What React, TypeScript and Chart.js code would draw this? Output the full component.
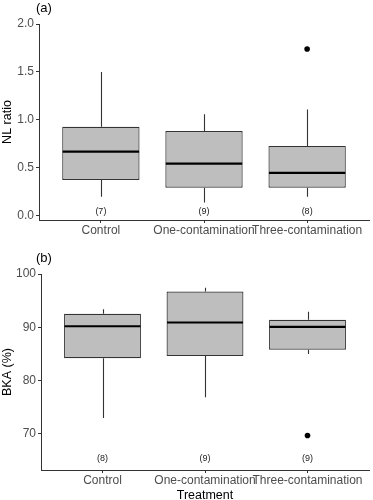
import React, { useEffect, useRef } from "react";
import { Chart, registerables } from "chart.js";

Chart.register(...registerables);

const FONT = "'Liberation Sans', Arial, sans-serif";

const categories = ["Control", "One-contamination", "Three-contamination"];

// Panel (a): NL ratio
const nlMin = [0.2, 0.14, 0.2];
const nlQ1 = [0.375, 0.295, 0.295];
const nlMedian = [0.67, 0.545, 0.45];
const nlQ3 = [0.93, 0.885, 0.73];
const nlMax = [1.5, 1.06, 1.11];
const nlOutliers = [[], [], [1.74]];
const nlCounts = ["(7)", "(9)", "(8)"];
const nlCountLevel = 0.045;
const nlTicks = [0, 0.5, 1.0, 1.5, 2.0];

// Panel (b): BKA (%)
const bkaMin = [73.0, 76.9, 85.0];
const bkaQ1 = [84.2, 84.6, 85.8];
const bkaMedian = [90.2, 90.9, 90.1];
const bkaQ3 = [92.55, 96.7, 91.4];
const bkaMax = [93.4, 97.4, 92.9];
const bkaOutliers = [[], [], [69.7]];
const bkaCounts = ["(8)", "(9)", "(9)"];
const bkaCountLevel = 65.4;
const bkaTicks = [70, 80, 90, 100];

type PanelProps = {
  tag: string;
  yTitle: string;
  xTitle?: string;
  mins: number[];
  q1: number[];
  medians: number[];
  q3: number[];
  maxs: number[];
  outliers: number[][];
  counts: string[];
  countLevel: number;
  yTicks: number[];
  yMin: number;
  yMax: number;
  yDecimals: number;
  yAxisWidth: number;
};

function BoxPanel(p: PanelProps) {
  const ref = useRef<HTMLCanvasElement | null>(null);

  useEffect(() => {
    if (!ref.current) return;

    const decor = {
      id: "boxDecor",
      afterDatasetsDraw(chart: any) {
        const ctx = chart.ctx;
        const ys = chart.scales.y;
        const meta = chart.getDatasetMeta(0);
        ctx.save();
        meta.data.forEach((bar: any, i: number) => {
          const cx = Math.round(bar.x) + 0.5;
          const half = bar.width / 2;
          // whiskers
          ctx.strokeStyle = "#333333";
          ctx.lineWidth = 1.1;
          ctx.beginPath();
          ctx.moveTo(cx, ys.getPixelForValue(p.q3[i]));
          ctx.lineTo(cx, ys.getPixelForValue(p.maxs[i]));
          ctx.moveTo(cx, ys.getPixelForValue(p.q1[i]));
          ctx.lineTo(cx, ys.getPixelForValue(p.mins[i]));
          ctx.stroke();
          // median
          ctx.strokeStyle = "#000000";
          ctx.lineWidth = 2.2;
          ctx.beginPath();
          const my = ys.getPixelForValue(p.medians[i]);
          ctx.moveTo(bar.x - half + 0.5, my);
          ctx.lineTo(bar.x + half - 0.5, my);
          ctx.stroke();
          // counts
          ctx.fillStyle = "#1a1a1a";
          ctx.font = `9px ${FONT}`;
          ctx.textAlign = "center";
          ctx.textBaseline = "middle";
          ctx.fillText(p.counts[i], bar.x, ys.getPixelForValue(p.countLevel));
        });
        ctx.restore();
      },
      afterDraw(chart: any) {
        const ctx = chart.ctx;
        const xs = chart.scales.x;
        const area = chart.chartArea;
        ctx.save();
        // category labels, kept inside the panel on the right
        ctx.fillStyle = "#4d4d4d";
        ctx.font = `12px ${FONT}`;
        ctx.textAlign = "center";
        ctx.textBaseline = "alphabetic";
        categories.forEach((c, i) => {
          const w = ctx.measureText(c).width;
          let x = xs.getPixelForValue(i + 1);
          x = Math.min(x, area.right - w / 2);
          ctx.fillText(c, x, area.bottom + 14);
        });
        // panel tag
        ctx.fillStyle = "#000000";
        ctx.font = `13px ${FONT}`;
        ctx.textAlign = "left";
        ctx.fillText(p.tag, 36, 12);
        ctx.restore();
      },
    };

    const boxData = categories.map((_, i) => ({ x: i + 1, y: [p.q1[i], p.q3[i]] }));
    const outlierData: { x: number; y: number }[] = [];
    p.outliers.forEach((arr, i) => arr.forEach((v) => outlierData.push({ x: i + 1, y: v })));

    const chart = new Chart(ref.current, {
      type: "bar",
      data: {
        datasets: [
          {
            type: "bar",
            data: boxData as any,
            backgroundColor: "#bebebe",
            borderColor: "#333333",
            borderWidth: 1.2,
            borderSkipped: false,
            barPercentage: 0.75,
            categoryPercentage: 1,
            grouped: false,
          } as any,
          {
            type: "scatter",
            data: outlierData as any,
            pointRadius: 2.8,
            backgroundColor: "#000000",
            borderWidth: 0,
          } as any,
        ],
      },
      options: {
        responsive: false,
        animation: false,
        devicePixelRatio: 1,
        layout: { padding: { top: 24, right: 3, left: 0, bottom: 0 } },
        plugins: {
          legend: { display: false },
          tooltip: { enabled: false },
          title: { display: false },
        },
        scales: {
          x: {
            type: "linear",
            min: 0.4,
            max: 3.6,
            offset: false,
            afterBuildTicks: (s: any) => {
              s.ticks = categories.map((_, i) => ({ value: i + 1 }));
            },
            afterFit: (s: any) => {
              s.height = 30;
            },
            ticks: {
              display: false,
              callback: (v: any) => categories[Math.round(Number(v)) - 1],
              autoSkip: false,
            },
            grid: {
              display: true,
              offset: false,
              drawOnChartArea: false,
              drawTicks: true,
              tickLength: 3,
              color: "#333333",
            },
            border: { display: true, color: "#333333", width: 1 },
            title: {
              display: !!p.xTitle,
              text: p.xTitle || "",
              color: "#000000",
              font: { size: 12.5, family: FONT, lineHeight: 1 },
              padding: { top: 0, bottom: -1.5 },
            },
          },
          y: {
            type: "linear",
            min: p.yMin,
            max: p.yMax,
            afterBuildTicks: (s: any) => {
              s.ticks = p.yTicks.map((v) => ({ value: v }));
            },
            afterFit: (s: any) => {
              s.width = p.yAxisWidth;
            },
            ticks: {
              callback: (v: any) => Number(v).toFixed(p.yDecimals),
              color: "#4d4d4d",
              font: { size: 12, family: FONT },
              padding: 2,
            },
            grid: { display: true, drawOnChartArea: false, drawTicks: true, tickLength: 3, color: "#333333" },
            border: { display: true, color: "#333333", width: 1 },
            title: {
              display: true,
              text: p.yTitle,
              color: "#000000",
              font: { size: 12.5, family: FONT },
              padding: { top: 0, bottom: 1 },
            },
          },
        },
      } as any,
      plugins: [decor],
    });

    return () => chart.destroy();
  }, []);

  return <canvas ref={ref} width={373} height={250} style={{ display: "block", width: 373, height: 250 }} />;
}

export default function App() {
  return (
    <div style={{ position: "fixed", left: 0, top: 0, width: 373, height: 500, background: "#ffffff" }}>
      <BoxPanel
        tag="(a)"
        yTitle="NL ratio"
        mins={nlMin}
        q1={nlQ1}
        medians={nlMedian}
        q3={nlQ3}
        maxs={nlMax}
        outliers={nlOutliers}
        counts={nlCounts}
        countLevel={nlCountLevel}
        yTicks={nlTicks}
        yMin={-0.042}
        yMax={2.0}
        yDecimals={1}
        yAxisWidth={39}
      />
      <BoxPanel
        tag="(b)"
        yTitle="BKA (%)"
        xTitle="Treatment"
        mins={bkaMin}
        q1={bkaQ1}
        medians={bkaMedian}
        q3={bkaQ3}
        maxs={bkaMax}
        outliers={bkaOutliers}
        counts={bkaCounts}
        countLevel={bkaCountLevel}
        yTicks={bkaTicks}
        yMin={63.24}
        yMax={100}
        yDecimals={0}
        yAxisWidth={41}
      />
    </div>
  );
}
